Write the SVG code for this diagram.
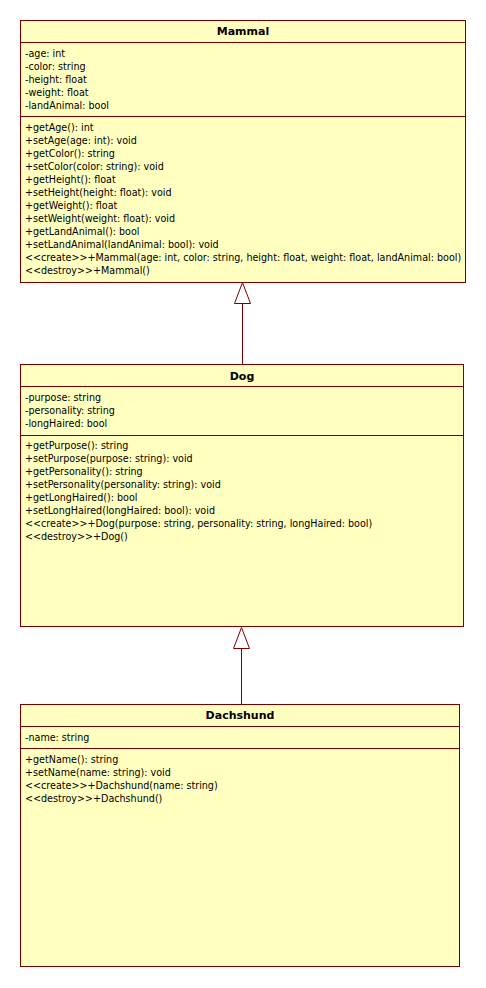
<svg xmlns="http://www.w3.org/2000/svg" width="486" height="988" viewBox="0 0 486 988">
<style>
.box{fill:#FFFFC0;stroke:#7A0000;stroke-width:1}
.sep{stroke:#7A0000;stroke-width:1}
.t{font-family:"DejaVu Sans Condensed","DejaVu Sans",sans-serif;font-size:10.65px;fill:#000}
.h{font-family:"DejaVu Sans","Liberation Sans",sans-serif;font-size:11px;font-weight:bold;fill:#000;text-anchor:middle}
.c{stroke:#7A0000;stroke-width:1;fill:none}
.tri{fill:#fff;stroke:#7A0000;stroke-width:1}
</style>
<rect width="486" height="988" fill="#fff"/>
<g id="connectors">
<line class="c" x1="242.5" y1="303" x2="242.5" y2="364.5"/>
<polygon class="tri" points="242.5,282.5 234.5,303.5 250.5,303.5"/>
<line class="c" x1="241.5" y1="648" x2="241.5" y2="704.5"/>
<polygon class="tri" points="241.5,627.5 233.5,648.5 249.5,648.5"/>
</g>
<g id="Mammal">
<rect class="box" x="20.5" y="20.5" width="445" height="262"/>
<line class="sep" x1="20.5" y1="42.5" x2="465.5" y2="42.5"/>
<line class="sep" x1="20.5" y1="116.5" x2="465.5" y2="116.5"/>
<text class="h" x="243" y="35">Mammal</text>
<text class="t" x="25" y="57">-age: int</text>
<text class="t" x="25" y="70">-color: string</text>
<text class="t" x="25" y="83">-height: float</text>
<text class="t" x="25" y="96">-weight: float</text>
<text class="t" x="25" y="109">-landAnimal: bool</text>
<text class="t" x="25" y="131">+getAge(): int</text>
<text class="t" x="25" y="144">+setAge(age: int): void</text>
<text class="t" x="25" y="157">+getColor(): string</text>
<text class="t" x="25" y="170">+setColor(color: string): void</text>
<text class="t" x="25" y="183">+getHeight(): float</text>
<text class="t" x="25" y="196">+setHeight(height: float): void</text>
<text class="t" x="25" y="209">+getWeight(): float</text>
<text class="t" x="25" y="222">+setWeight(weight: float): void</text>
<text class="t" x="25" y="235">+getLandAnimal(): bool</text>
<text class="t" x="25" y="248">+setLandAnimal(landAnimal: bool): void</text>
<text class="t" x="25" y="261">&lt;&lt;create&gt;&gt;+Mammal(age: int, color: string, height: float, weight: float, landAnimal: bool)</text>
<text class="t" x="25" y="274">&lt;&lt;destroy&gt;&gt;+Mammal()</text>
</g>
<g id="Dog">
<rect class="box" x="20.5" y="364.5" width="443" height="262"/>
<line class="sep" x1="20.5" y1="386.5" x2="463.5" y2="386.5"/>
<line class="sep" x1="20.5" y1="435.5" x2="463.5" y2="435.5"/>
<text class="h" x="242" y="380">Dog</text>
<text class="t" x="25" y="401">-purpose: string</text>
<text class="t" x="25" y="414">-personality: string</text>
<text class="t" x="25" y="427">-longHaired: bool</text>
<text class="t" x="25" y="449">+getPurpose(): string</text>
<text class="t" x="25" y="462">+setPurpose(purpose: string): void</text>
<text class="t" x="25" y="475">+getPersonality(): string</text>
<text class="t" x="25" y="488">+setPersonality(personality: string): void</text>
<text class="t" x="25" y="501">+getLongHaired(): bool</text>
<text class="t" x="25" y="514">+setLongHaired(longHaired: bool): void</text>
<text class="t" x="25" y="527">&lt;&lt;create&gt;&gt;+Dog(purpose: string, personality: string, longHaired: bool)</text>
<text class="t" x="25" y="540">&lt;&lt;destroy&gt;&gt;+Dog()</text>
</g>
<g id="Dachshund">
<rect class="box" x="20.5" y="704.5" width="439" height="262"/>
<line class="sep" x1="20.5" y1="726.5" x2="459.5" y2="726.5"/>
<line class="sep" x1="20.5" y1="748.5" x2="459.5" y2="748.5"/>
<text class="h" x="240" y="719">Dachshund</text>
<text class="t" x="25" y="741">-name: string</text>
<text class="t" x="25" y="763">+getName(): string</text>
<text class="t" x="25" y="776">+setName(name: string): void</text>
<text class="t" x="25" y="789">&lt;&lt;create&gt;&gt;+Dachshund(name: string)</text>
<text class="t" x="25" y="802">&lt;&lt;destroy&gt;&gt;+Dachshund()</text>
</g>
</svg>
